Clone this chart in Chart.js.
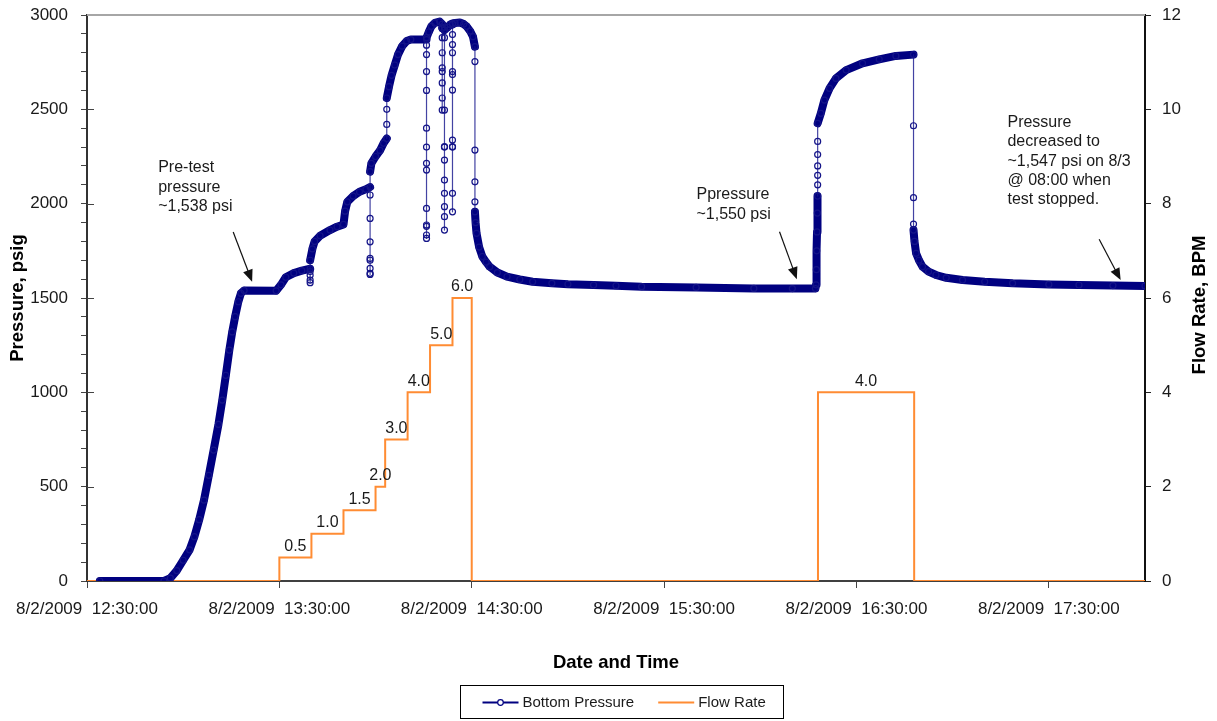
<!DOCTYPE html>
<html>
<head>
<meta charset="utf-8">
<title>Bottom Pressure / Flow Rate</title>
<script src="https://cdn.jsdelivr.net/npm/chart.js@4.4.1/dist/chart.umd.min.js"></script>
<style>
  html, body { margin: 0; padding: 0; background: #fff; }
  #wrap { width: 1217px; height: 721px; }
</style>
</head>
<body>
<div id="wrap"><canvas id="grafico"></canvas></div>
<script>
// Tempo em minutos depois de 8/2/2009 12:30:00
const tickMin = [0, 60, 120, 180, 240, 300];
const timeTicks = ['8/2/2009  12:30:00', '8/2/2009  13:30:00', '8/2/2009  14:30:00',
  '8/2/2009  15:30:00', '8/2/2009  16:30:00', '8/2/2009  17:30:00'];

// Bottom Pressure (psig)
const pressureMin = [
  4, 24, 26, 28, 30, 32, 33.5, 35, 36.5, 38, 39.5, 41, 42.2, 43.3, 44.4, 45.3, 46.2, 47.2, 48, 49,
  59, 60.5, 62, 64.5, 67, 69.6,
  69.6, 69.6, 69.6, 69.6, 69.6,
  70.3, 71, 72.7, 75.8, 78, 80, 80.5, 81.2, 83, 85, 87, 88.3,
  88.3, 88.3, 88.3, 88.3, 88.3, 88.3, 88.3, 88.3, 88.3,
  88.7, 90, 91.4, 92.5, 93.5,
  93.5, 93.5, 93.5,
  94.2, 95, 96, 97, 98.3, 99.7, 101, 105.9,
  105.9, 105.9, 105.9, 105.9, 105.9, 105.9, 105.9, 105.9, 105.9, 105.9, 105.9, 105.9, 105.9, 105.9,
  106.6, 107.4, 108.5, 110, 110.8,
  110.8, 110.8, 110.8, 110.8, 110.8, 110.8, 110.8, 110.8,
  111.5,
  111.5, 111.5, 111.5, 111.5, 111.5, 111.5, 111.5, 111.5, 111.5, 111.5, 111.5,
  112.5, 113.3, 114,
  114, 114, 114, 114, 114, 114, 114, 114, 114, 114, 114, 114,
  114.8, 116.3, 117.5, 118.4, 119.5, 120.4, 121,
  121, 121, 121, 121, 121,
  121.2, 121.5, 122.3, 123.3, 124.5, 125.6, 128, 131, 135, 139, 145, 150, 158, 165, 173, 190, 208, 220, 227.2,
  227.4, 227.5, 227.6, 227.7, 227.8, 227.9,
  227.9, 227.9, 227.9, 227.9, 227.9, 227.9,
  228.9, 230, 231.6, 233.6, 236.8, 241.9, 247.1, 252.3, 257.8,
  257.8, 257.8, 257.8, 257.8,
  258.1, 258.6, 259.5, 260.6, 262.5, 264.8, 268, 273.1, 280, 288.7, 300, 309.4, 320, 330
];
const pressurePsi = [
  0, 0, 15, 55, 110, 165, 235, 325, 429, 560, 694, 830, 959, 1090, 1224, 1320, 1401, 1480, 1525, 1540,
  1538, 1570, 1610, 1632, 1645, 1655,
  1620, 1595, 1581, 1640, 1700,
  1760, 1800, 1830, 1860, 1878, 1890, 1960, 2010, 2040, 2063, 2076, 2088,
  2046, 1922, 1798, 1710, 1657, 1631, 1625, 1700, 2170,
  2214, 2250, 2282, 2320, 2345,
  2420, 2500, 2560,
  2620, 2680, 2735, 2790, 2835, 2862, 2870, 2870,
  2840, 2790, 2700, 2600, 2400, 2214, 2178, 1975, 1887, 1834, 1816, 1880, 2300, 2880,
  2910, 2940, 2958, 2965, 2952,
  2880, 2800, 2720, 2640, 2560, 2496, 2700, 2930,
  2935,
  2880, 2496, 2302, 2231, 2125, 2055, 1984, 1931, 1860, 2300, 2920,
  2935, 2950, 2955,
  2896, 2843, 2700, 2684, 2602, 2337, 2302, 2055, 1957, 2300, 2800, 2950,
  2958, 2960, 2952, 2940, 2915, 2885, 2832,
  2753, 2284, 2116, 2010, 1957,
  1900, 1843, 1770, 1720, 1690, 1666, 1635, 1613, 1598, 1586, 1578, 1573, 1569, 1565, 1560, 1556, 1551, 1550, 1550,
  1570, 1650, 1750, 1850, 1950, 2040,
  2100, 2150, 2200, 2260, 2330, 2426,
  2479, 2549, 2611, 2664, 2708, 2744, 2765, 2783, 2790,
  2413, 2032, 1892, 1860,
  1800, 1737, 1700, 1666, 1640, 1622, 1607, 1595, 1586, 1578, 1572, 1569, 1566, 1564
];

// Flow Rate (BPM) - degraus
const flowMin = [0, 60, 70, 80, 90, 93, 100, 107, 114, 120, 228, 258, 330];
const flowBpm = [0, 0.5, 1.0, 1.5, 2.0, 3.0, 4.0, 5.0, 6.0, 0, 4.0, 0, 0];

// Notas do grafico (em unidades de dados: minutos, psi)
const notas = [
  { linhas: ['Pre-test', 'pressure', '~1,538 psi'], em: [22.2, 2189], seta: [[45.6, 1850], [51.5, 1586]] },
  { linhas: ['Ppressure', '~1,550 psi'], em: [190.1, 2046], seta: [[216, 1851], [221.4, 1600]] },
  { linhas: ['Pressure', 'decreased to', '~1,547 psi on 8/3', '@ 08:00 when', 'test stopped.'],
    em: [287.1, 2429], seta: [[315.7, 1811], [322.4, 1595]] }
];

const FONTE = '"Liberation Sans", Arial, sans-serif';
const NAVY = '#000080';
const LARANJA = '#FF8C33';

const extras = {
  id: 'extras',
  afterDatasetsDraw(chart) {
    const { ctx, chartArea, scales } = chart;
    const x = scales.x, y = scales.y, y1 = scales.y1;
    ctx.save();
    // borda superior cinza
    ctx.strokeStyle = '#a6a6a6';
    ctx.lineWidth = 2;
    ctx.beginPath();
    ctx.moveTo(chartArea.left, chartArea.top);
    ctx.lineTo(chartArea.right, chartArea.top);
    ctx.stroke();
    // marcas maiores que cruzam o eixo esquerdo
    ctx.strokeStyle = '#444';
    ctx.lineWidth = 1;
    for (let v = 500; v < 3000; v += 500) {
      const py = Math.round(y.getPixelForValue(v)) + 0.5;
      ctx.beginPath();
      ctx.moveTo(chartArea.left, py);
      ctx.lineTo(chartArea.left + 7, py);
      ctx.stroke();
    }
    // rotulos dos degraus de vazao
    ctx.fillStyle = '#1a1a1a';
    ctx.font = '16px ' + FONTE;
    ctx.textAlign = 'center';
    ctx.textBaseline = 'bottom';
    for (let i = 0; i < flowMin.length - 1; i++) {
      if (flowBpm[i] <= 0) continue;
      const xc = (x.getPixelForValue(flowMin[i]) + x.getPixelForValue(flowMin[i + 1])) / 2;
      ctx.fillText(flowBpm[i].toFixed(1), xc, y1.getPixelForValue(flowBpm[i]) - 3);
    }
    // notas e setas
    ctx.textAlign = 'left';
    ctx.textBaseline = 'middle';
    notas.forEach(n => {
      const tx = x.getPixelForValue(n.em[0]);
      const ty = y.getPixelForValue(n.em[1]);
      n.linhas.forEach((t, k) => ctx.fillText(t, tx, ty + k * 19.2));
      const x0 = x.getPixelForValue(n.seta[0][0]), y0 = y.getPixelForValue(n.seta[0][1]);
      const x1 = x.getPixelForValue(n.seta[1][0]), yb = y.getPixelForValue(n.seta[1][1]);
      const ang = Math.atan2(yb - y0, x1 - x0);
      ctx.strokeStyle = '#111';
      ctx.lineWidth = 1.2;
      ctx.beginPath();
      ctx.moveTo(x0, y0);
      ctx.lineTo(x1 - 8 * Math.cos(ang), yb - 8 * Math.sin(ang));
      ctx.stroke();
      ctx.fillStyle = '#111';
      ctx.beginPath();
      ctx.moveTo(x1, yb);
      ctx.lineTo(x1 - 12 * Math.cos(ang) + 5 * Math.sin(ang), yb - 12 * Math.sin(ang) - 5 * Math.cos(ang));
      ctx.lineTo(x1 - 12 * Math.cos(ang) - 5 * Math.sin(ang), yb - 12 * Math.sin(ang) + 5 * Math.cos(ang));
      ctx.closePath();
      ctx.fill();
      ctx.fillStyle = '#1a1a1a';
    });
    ctx.restore();
  },
  afterDraw(chart) {
    const { ctx, chartArea } = chart;
    ctx.save();
    // titulo do eixo direito (lido de baixo para cima)
    ctx.fillStyle = '#000';
    ctx.font = 'bold 18.5px ' + FONTE;
    ctx.textAlign = 'center';
    ctx.textBaseline = 'middle';
    ctx.translate(chart.width - 17, (chartArea.top + chartArea.bottom) / 2 + 7);
    ctx.rotate(-Math.PI / 2);
    ctx.fillText('Flow Rate, BPM', 0, 0);
    ctx.restore();

    // legenda com moldura
    ctx.save();
    ctx.font = '15px ' + FONTE;
    const ds = chart.data.datasets;
    const w1 = ctx.measureText(ds[0].label).width;
    const w2 = ctx.measureText(ds[1].label).width;
    const boxW = 22 + 36 + 4 + w1 + 24 + 36 + 4 + w2 + 18;
    const left = Math.round(chart.width / 2 + 13 - boxW / 2) + 0.5;
    const top = chart.height - 36 + 0.5;
    ctx.strokeStyle = '#000';
    ctx.lineWidth = 1;
    ctx.strokeRect(left, top, Math.round(boxW), 33);
    const cy = top + 17;
    let cx = left + 22;
    ctx.strokeStyle = NAVY;
    ctx.lineWidth = 2;
    ctx.beginPath(); ctx.moveTo(cx, cy); ctx.lineTo(cx + 36, cy); ctx.stroke();
    ctx.lineWidth = 1.2;
    ctx.fillStyle = '#fff';
    ctx.beginPath(); ctx.arc(cx + 18, cy, 2.8, 0, Math.PI * 2); ctx.fill(); ctx.stroke();
    ctx.fillStyle = '#1a1a1a';
    ctx.textBaseline = 'middle';
    ctx.fillText(ds[0].label, cx + 40, cy);
    cx += 40 + w1 + 24;
    ctx.strokeStyle = LARANJA;
    ctx.lineWidth = 2;
    ctx.beginPath(); ctx.moveTo(cx, cy); ctx.lineTo(cx + 36, cy); ctx.stroke();
    ctx.fillText(ds[1].label, cx + 40, cy);
    ctx.restore();
  }
};

// eixo vertical com largura fixa e sem folga extra em cima/baixo
function larguraFixa(w) {
  return s => { s.width = w; s.paddingTop = 0; s.paddingBottom = 0; };
}

const grafico = document.getElementById('grafico');
new Chart(grafico, {
  type: 'line',
  data: {
    datasets: [{
      label: 'Bottom Pressure',
      yAxisID: 'y',
      data: pressureMin.map((m, i) => ({ x: m, y: pressurePsi[i] })),
      borderColor: NAVY,
      borderWidth: 8,
      borderJoinStyle: 'round',
      borderCapStyle: 'round',
      pointRadius: 3,
      pointBorderWidth: 1.2,
      pointBorderColor: '#141488',
      pointBackgroundColor: 'rgba(255,255,255,0)',
      segment: {
        borderWidth: c => c.p0.parsed.x === c.p1.parsed.x ? 1.2 : 8,
        borderColor: c => c.p0.parsed.x === c.p1.parsed.x ? 'rgba(20,20,140,0.8)' : NAVY
      },
      tension: 0
    }, {
      label: 'Flow Rate',
      yAxisID: 'y1',
      data: flowMin.map((m, i) => ({ x: m, y: flowBpm[i] })),
      borderColor: LARANJA,
      borderWidth: 2,
      stepped: 'before',
      pointRadius: 0,
      tension: 0
    }]
  },
  options: {
    responsive: true,
    maintainAspectRatio: false,
    animation: false,
    devicePixelRatio: 1,
    layout: { padding: { top: 15, left: 0, right: 0, bottom: 0 } },
    plugins: {
      legend: { display: false },
      tooltip: { enabled: false }
    },
    scales: {
      x: {
        type: 'linear',
        min: 0,
        max: 330,
        afterBuildTicks: s => { s.ticks = tickMin.map(v => ({ value: v })); },
        afterFit: s => { s.height = 140; },
        grid: { drawOnChartArea: false, tickLength: 7, tickColor: '#444', tickWidth: 1 },
        border: { display: true, color: '#404040', width: 2 },
        ticks: {
          maxRotation: 0,
          autoSkip: false,
          padding: 11,
          color: '#1a1a1a',
          font: { family: FONTE, size: 17 },
          callback: (v, i) => timeTicks[i]
        },
        title: {
          display: true,
          text: 'Date and Time',
          color: '#000',
          font: { family: FONTE, size: 18.5, weight: 'bold' },
          padding: { top: 0, bottom: 47 }
        }
      },
      y: {
        position: 'left',
        min: 0,
        max: 3000,
        afterFit: larguraFixa(87),
        grid: { drawOnChartArea: false, tickLength: 6, tickColor: '#444', tickWidth: 1 },
        border: { display: true, color: '#333', width: 2 },
        ticks: {
          stepSize: 100,
          autoSkip: false,
          padding: 13,
          color: '#1a1a1a',
          font: { family: FONTE, size: 17 },
          callback: v => (v % 500 === 0 ? v : '')
        },
        title: {
          display: true,
          text: 'Pressure, psig',
          color: '#000',
          font: { family: FONTE, size: 18.5, weight: 'bold' },
          padding: { top: 7, bottom: 0 }
        }
      },
      y1: {
        position: 'right',
        min: 0,
        max: 12,
        afterFit: larguraFixa(72),
        grid: { drawOnChartArea: false, tickLength: 6, tickColor: '#222', tickWidth: 1 },
        border: { display: true, color: '#111', width: 2 },
        ticks: {
          stepSize: 2,
          padding: 11,
          color: '#1a1a1a',
          font: { family: FONTE, size: 17 }
        }
      }
    }
  },
  plugins: [extras]
});
</script>
</body>
</html>
